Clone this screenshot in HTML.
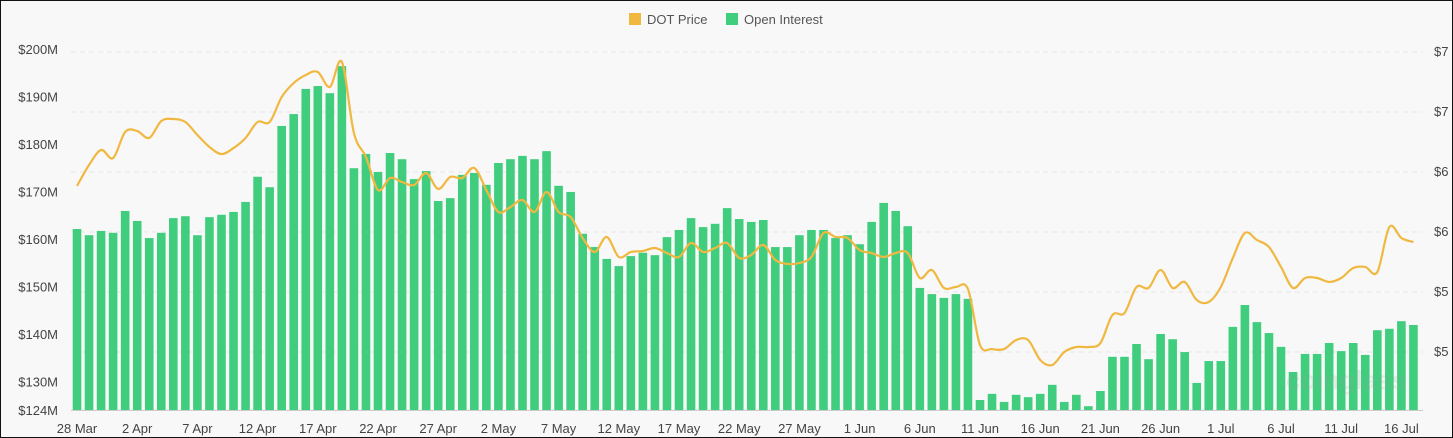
<!DOCTYPE html>
<html><head><meta charset="utf-8"><style>
html,body{margin:0;padding:0;background:#f8f8f8;}
#wrap{position:relative;width:1451px;height:436px;border:1px solid #111;background:#f8f8f8;overflow:hidden;}
svg text{font-family:"Liberation Sans",sans-serif;}
</style></head><body>
<div id="wrap">
<svg id="chart" width="1451" height="436"></svg>
</div>
<script>
const oiValues=[162.1,160.8,161.7,161.3,165.9,163.8,160.2,161.3,164.4,164.8,160.8,164.6,165.1,165.7,167.8,173.1,170.9,183.8,186.3,191.6,192.2,190.7,196.4,174.9,177.9,174.1,178.1,176.8,172.6,174.3,168.0,168.6,173.5,173.9,171.4,176.0,176.8,177.5,176.8,178.5,171.2,169.9,161.1,158.3,155.8,154.3,156.4,157.1,156.6,160.4,161.9,164.4,162.5,163.2,166.5,164.2,163.6,164.0,158.3,158.3,160.8,161.9,161.9,160.2,160.8,158.9,163.6,167.6,165.9,162.7,149.7,148.4,147.6,148.4,147.4,126.1,127.4,125.7,127.2,126.7,127.4,129.3,125.7,127.2,124.8,128.0,135.2,135.2,137.9,134.7,140.0,138.9,136.2,129.7,134.3,134.3,141.5,146.1,142.5,140.2,137.3,132.0,135.8,135.8,138.1,136.4,138.1,135.6,140.8,141.1,142.7,141.9];
const priceValues=[5.867,6.042,6.167,6.100,6.317,6.325,6.267,6.408,6.425,6.400,6.292,6.192,6.133,6.183,6.267,6.400,6.400,6.608,6.725,6.792,6.817,6.692,6.900,6.308,6.108,5.833,5.933,5.900,5.875,5.975,5.842,5.942,5.933,6.017,5.833,5.650,5.692,5.750,5.650,5.817,5.650,5.608,5.433,5.317,5.442,5.275,5.317,5.325,5.350,5.308,5.275,5.392,5.317,5.350,5.392,5.267,5.292,5.375,5.250,5.217,5.225,5.275,5.475,5.442,5.433,5.333,5.308,5.275,5.308,5.308,5.100,5.167,5.017,5.025,5.008,4.542,4.508,4.508,4.583,4.583,4.417,4.375,4.483,4.525,4.525,4.558,4.792,4.808,5.025,5.017,5.167,5.017,5.067,4.917,4.900,5.025,5.267,5.475,5.417,5.358,5.192,5.017,5.100,5.100,5.067,5.100,5.183,5.192,5.150,5.525,5.433,5.400];
const xTickLabels=["28 Mar","2 Apr","7 Apr","12 Apr","17 Apr","22 Apr","27 Apr","2 May","7 May","12 May","17 May","22 May","27 May","1 Jun","6 Jun","11 Jun","16 Jun","21 Jun","26 Jun","1 Jul","6 Jul","11 Jul","16 Jul"];
const leftTickValues=[124,130,140,150,160,170,180,190,200];
const leftTickLabels=["$124M","$130M","$140M","$150M","$160M","$170M","$180M","$190M","$200M"];
const rightTickValues=[7.0,6.5,6.0,5.5,5.0,4.5];
const rightTickLabels=["$7","$7","$6","$6","$5","$5"];

const NS="http://www.w3.org/2000/svg";
const svg=document.getElementById('chart');
function el(t,a,p){const e=document.createElementNS(NS,t);for(const k in a)e.setAttribute(k,a[k]);(p||svg).appendChild(e);return e;}
const X0=76,DX=12.04;
const xS=i=>X0+i*DX;
const yL=v=>409-(v-124)*4.75;
const yR=p=>49+(7-p)*120;

rightTickValues.forEach((v,i)=>{
  const g=el('line',{x1:70,x2:1422,y1:yR(v)+2,y2:yR(v)+2,stroke:'#e6e6e6','stroke-dasharray':'5,4'});
  
  
  const t=el('text',{x:1433,y:yR(v)+6,'font-size':13,fill:'#444'});
  t.textContent=rightTickLabels[i];
  
  
});
leftTickValues.forEach((v,i)=>{
  const t=el('text',{x:57,y:yL(v)+5,'font-size':13,fill:'#444','text-anchor':'end'});
  t.textContent=leftTickLabels[i];
  
  
});
oiValues.forEach((v,i)=>{
  const y=yL(v);
  const b=el('rect',{x:xS(i)-4.3,y:y,width:8.6,height:409-y,fill:'#40cd7e'});
  
  
});
const ax=el('line',{x1:70,x2:1422,y1:409.5,y2:409.5,stroke:'#ccc'});


xTickLabels.forEach((l,k)=>{
  const t=el('text',{x:xS(k*5),y:432,'font-size':13,fill:'#444','text-anchor':'middle'});
  t.textContent=l;
  
  
});
const wm=el('text',{x:1285,y:388,'font-size':26,'font-weight':'bold',fill:'#999','fill-opacity':0.18});
wm.textContent='coinglass';


const pts=priceValues.map((p,i)=>[xS(i),yR(p)]);
let d='M'+pts[0][0]+','+pts[0][1];
for(let i=0;i<pts.length-1;i++){
  const p0=pts[Math.max(0,i-1)],p1=pts[i],p2=pts[i+1],p3=pts[Math.min(pts.length-1,i+2)];
  const c1=[p1[0]+(p2[0]-p0[0])/6,p1[1]+(p2[1]-p0[1])/6];
  const c2=[p2[0]-(p3[0]-p1[0])/6,p2[1]-(p3[1]-p1[1])/6];
  d+=` C${c1[0]},${c1[1]} ${c2[0]},${c2[1]} ${p2[0]},${p2[1]}`;
}
const line=el('path',{d:d,fill:'none',stroke:'#f0b840','stroke-width':2.2});


const lg=el('g',{});


const s1=el('rect',{x:628,y:12,width:12,height:12,fill:'#f0b840'},lg);


const t1=el('text',{x:646,y:23,'font-size':13,fill:'#555'},lg);
t1.textContent='DOT Price';


const s2=el('rect',{x:725,y:12,width:12,height:12,fill:'#40cd7e'},lg);


const t2=el('text',{x:743,y:23,'font-size':13,fill:'#555'},lg);
t2.textContent='Open Interest';


</script>
</body></html>
